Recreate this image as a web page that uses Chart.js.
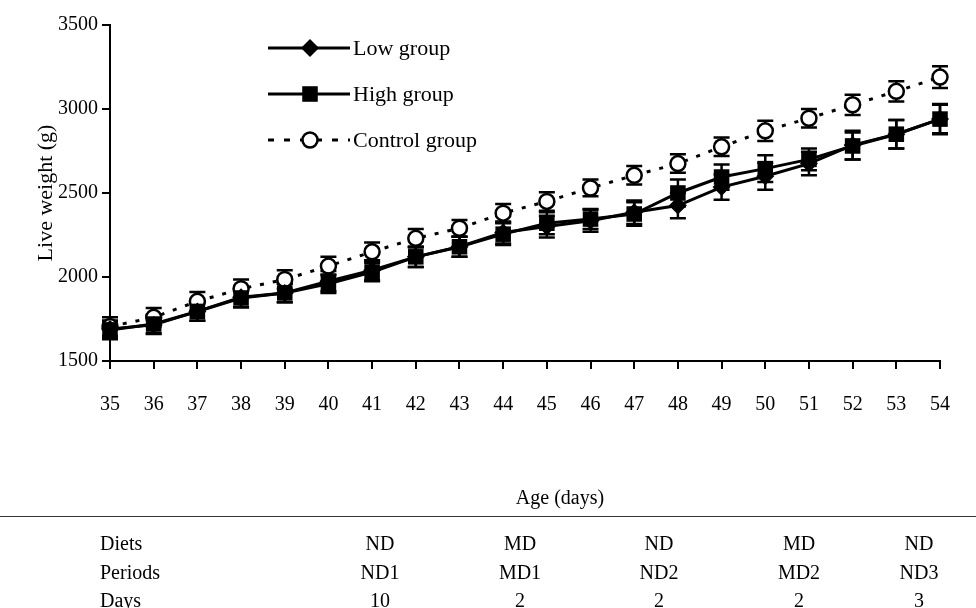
<!DOCTYPE html>
<html>
<head>
<meta charset="utf-8">
<script src="https://cdn.jsdelivr.net/npm/chart.js@4/dist/chart.umd.min.js"></script>
<style>
  body { margin: 0; background: #fff; }
  #wrap { position: relative; width: 976px; height: 608px; font-family: "Liberation Serif", serif; color: #000; }
  #chart { position: absolute; left: 0; top: 0; }
  .t { position: absolute; font-size: 20px; line-height: 20px; white-space: nowrap; }
  .c { transform: translateX(-50%); }
  #rule { position: absolute; left: 0; top: 516px; width: 976px; height: 1px; background: #333; }
</style>
</head>
<body>
<div id="wrap">
  <canvas id="chart" width="976" height="608"></canvas>
  <div id="table"></div>
</div>
<script>
const days = ["35", "36", "37", "38", "39", "40", "41", "42", "43", "44",
              "45", "46", "47", "48", "49", "50", "51", "52", "53", "54"];

const lowGroup = [1690, 1715, 1795, 1880, 1905, 1975, 2040, 2120, 2180, 2265,
                  2300, 2335, 2385, 2425, 2535, 2600, 2675, 2785, 2850, 2940];
const highGroup = [1685, 1720, 1795, 1875, 1905, 1960, 2030, 2120, 2180, 2255,
                   2320, 2345, 2375, 2500, 2595, 2645, 2700, 2780, 2850, 2940];
const controlGroup = [1705, 1760, 1855, 1930, 1985, 2065, 2150, 2230, 2290, 2380,
                      2450, 2530, 2605, 2675, 2775, 2870, 2945, 3025, 3105, 3190];

const lowSd = [50, 55, 55, 60, 55, 60, 60, 60, 60, 65, 65, 65, 70, 75, 75, 80, 70, 85, 85, 90];
const highSd = [55, 55, 55, 55, 55, 55, 55, 60, 60, 65, 65, 60, 70, 80, 75, 80, 65, 80, 85, 85];
const controlSd = [55, 55, 55, 55, 55, 55, 55, 55, 50, 55, 55, 50, 55, 55, 55, 60, 55, 60, 60, 65];

const tableRows = ["Diets", "Periods", "Days"];
const diets = ["ND", "MD", "ND", "MD", "ND"];
const periods = ["ND1", "MD1", "ND2", "MD2", "ND3"];
const periodDays = ["10", "2", "2", "2", "3"];

const FONT = "Liberation Serif";

// table under the chart
const table = document.getElementById("table");
const colX = [380, 520, 659, 799, 919];
const rowY = [533, 562, 590];
function addText(text, x, y, center) {
  const d = document.createElement("div");
  d.className = center ? "t c" : "t";
  d.style.left = x + "px";
  d.style.top = y + "px";
  d.textContent = text;
  table.appendChild(d);
}
addText("Age (days)", 560, 487, true);
const rule = document.createElement("div");
rule.id = "rule";
table.appendChild(rule);
[diets, periods, periodDays].forEach((row, r) => {
  addText(tableRows[r], 100, rowY[r], false);
  row.forEach((txt, c) => addText(txt, colX[c], rowY[r], true));
});

function marker(ctx, style, x, y, r) {
  ctx.beginPath();
  if (style === "rectRot") {
    ctx.moveTo(x - r, y); ctx.lineTo(x, y - r); ctx.lineTo(x + r, y); ctx.lineTo(x, y + r);
    ctx.closePath();
    ctx.fillStyle = "#000"; ctx.fill();
  } else if (style === "rect") {
    const s = r * Math.SQRT1_2;
    ctx.rect(x - s, y - s, 2 * s, 2 * s);
    ctx.fillStyle = "#000"; ctx.fill();
  } else {
    ctx.arc(x, y, r, 0, Math.PI * 2);
    ctx.fillStyle = "#fff"; ctx.fill();
    ctx.lineWidth = 2.5; ctx.strokeStyle = "#000"; ctx.stroke();
  }
}

const errorBars = {
  id: "errorBars",
  beforeDatasetsDraw(chart) {
    const ctx = chart.ctx;
    const y = chart.scales.y;
    ctx.save();
    ctx.strokeStyle = "#000";
    ctx.lineWidth = 2.5;
    chart.data.datasets.forEach((ds, i) => {
      const meta = chart.getDatasetMeta(i);
      meta.data.forEach((pt, j) => {
        const top = y.getPixelForValue(ds.data[j] + ds.sd[j]);
        const bot = y.getPixelForValue(ds.data[j] - ds.sd[j]);
        ctx.beginPath();
        ctx.moveTo(pt.x, top); ctx.lineTo(pt.x, bot);
        ctx.moveTo(pt.x - 8, top); ctx.lineTo(pt.x + 8, top);
        ctx.moveTo(pt.x - 8, bot); ctx.lineTo(pt.x + 8, bot);
        ctx.stroke();
      });
    });
    ctx.restore();
  }
};

const lineLegend = {
  id: "lineLegend",
  afterDraw(chart) {
    const ctx = chart.ctx;
    ctx.save();
    chart.data.datasets.forEach((ds, i) => {
      const yy = 48 + i * 46;
      ctx.beginPath();
      ctx.setLineDash(ds.borderDash ? [6, 10] : []);
      ctx.lineWidth = ds.borderWidth;
      ctx.strokeStyle = "#000";
      ctx.moveTo(268, yy); ctx.lineTo(350, yy);
      ctx.stroke();
      ctx.setLineDash([]);
      marker(ctx, ds.pointStyle, 310, yy, ds.pointRadius);
      ctx.fillStyle = "#000";
      ctx.font = "22px '" + FONT + "'";
      ctx.textBaseline = "middle";
      ctx.fillText(ds.label, 353, yy + 1);
    });
    ctx.restore();
  }
};

const axisGrid = {
  drawOnChartArea: false,
  drawTicks: true,
  tickLength: 8,
  color: "#000",
  lineWidth: 2
};

new Chart(document.getElementById("chart"), {
  type: "line",
  data: {
    labels: days,
    datasets: [
      {
        label: "Low group",
        data: lowGroup,
        sd: lowSd,
        borderColor: "#000",
        borderWidth: 3,
        pointStyle: "rectRot",
        pointRadius: 9,
        pointBackgroundColor: "#000",
        pointBorderColor: "#000",
        pointBorderWidth: 0,
        tension: 0
      },
      {
        label: "High group",
        data: highGroup,
        sd: highSd,
        borderColor: "#000",
        borderWidth: 3,
        pointStyle: "rect",
        pointRadius: 11,
        pointBackgroundColor: "#000",
        pointBorderColor: "#000",
        pointBorderWidth: 0,
        tension: 0
      },
      {
        label: "Control group",
        data: controlGroup,
        sd: controlSd,
        borderColor: "#000",
        borderWidth: 3,
        borderDash: [4, 9],
        pointStyle: "circle",
        pointRadius: 7.5,
        pointBackgroundColor: "#fff",
        pointBorderColor: "#000",
        pointBorderWidth: 2.5,
        tension: 0
      }
    ]
  },
  options: {
    responsive: false,
    animation: false,
    devicePixelRatio: 1,
    layout: { padding: { top: 25, right: 36, bottom: 0, left: 0 } },
    plugins: { legend: { display: false }, tooltip: { enabled: false } },
    scales: {
      x: {
        type: "category",
        offset: false,
        grid: axisGrid,
        border: { color: "#000", width: 2 },
        ticks: { color: "#000", font: { family: FONT, size: 20 }, padding: 24, maxRotation: 0, autoSkip: false },
        afterFit: s => { s.height = 247; }
      },
      y: {
        min: 1500,
        max: 3500,
        grid: axisGrid,
        border: { color: "#000", width: 2 },
        ticks: { stepSize: 500, color: "#000", font: { family: FONT, size: 20 }, padding: 4, callback: v => String(v) },
        title: { display: true, text: "Live weight (g)", color: "#000", font: { family: FONT, size: 22 }, padding: { top: 33, bottom: 0 } },
        afterFit: s => { s.width = 110; }
      }
    }
  },
  plugins: [errorBars, lineLegend]
});
</script>
</body>
</html>
